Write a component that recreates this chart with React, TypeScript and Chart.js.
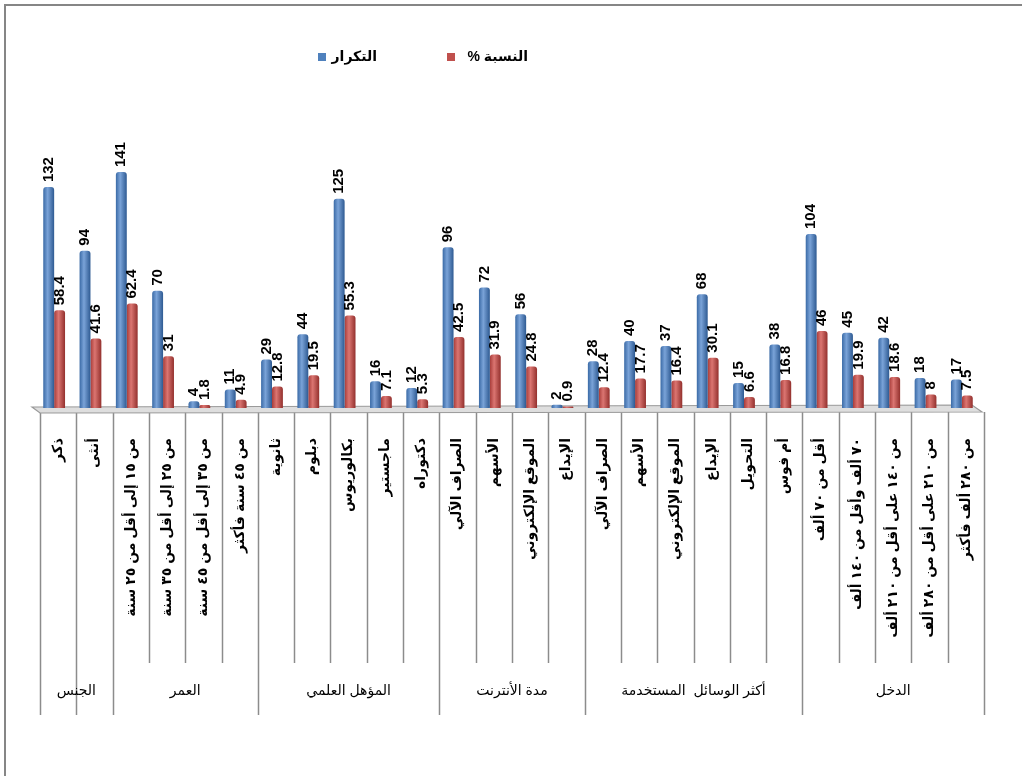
import React, { useEffect, useRef } from "react";
import { Chart, registerables } from "chart.js";

Chart.register(...registerables);

const categories = [
  "ذكر",
  "أنثى",
  "من ١٥ إلى أقل من ٢٥ سنة",
  "من ٢٥ إلى أقل من ٣٥ سنة",
  "من ٣٥ إلى أقل من ٤٥ سنة",
  "من ٤٥ سنة فأكثر",
  "ثانوية",
  "دبلوم",
  "بكالوريوس",
  "ماجستير",
  "دكتوراه",
  "الصراف الآلي",
  "الأسهم",
  "الموقع الإلكتروني",
  "الإيداع",
  "الصراف الآلي",
  "الأسهم",
  "الموقع الإلكتروني",
  "الإيداع",
  "التحويل",
  "أم فوس",
  "أقل من ٧٠ ألف",
  "٧٠ ألف وأقل من ١٤٠ ألف",
  "من ١٤٠ على أقل من ٢١٠ ألف",
  "من ٢١٠ على أقل من ٢٨٠ ألف",
  "من ٢٨٠ ألف فأكثر",
];

const groupNames = ["الجنس", "العمر", "المؤهل العلمي", "مدة الأنترنت", "أكثر الوسائل  المستخدمة", "الدخل"];
const groupSizes = [2, 4, 5, 4, 6, 5];

const frequency = [132, 94, 141, 70, 4, 11, 29, 44, 125, 16, 12, 96, 72, 56, 2, 28, 40, 37, 68, 15, 38, 104, 45, 42, 18, 17];
const percent = [58.4, 41.6, 62.4, 31, 1.8, 4.9, 12.8, 19.5, 55.3, 7.1, 5.3, 42.5, 31.9, 24.8, 0.9, 12.4, 17.7, 16.4, 30.1, 6.6, 16.8, 46, 19.9, 18.6, 8, 7.5];

const seriesLabels = ["التكرار", "النسبة %"];
const seriesColors = ["#4F81BD", "#C0504D"];
const blueStops = ["#3A6AA6", "#7AA3D8", "#2E5A92"];
const redStops = ["#A83C39", "#DB7571", "#93302D"];

const CAT_PCT = 0.6;
const BAR_SHIFT = -4;
const FONT = 'Arial, "Liberation Sans", "DejaVu Sans", sans-serif';

function barGradient(stops: string[], datasetIdx: number) {
  return (c: any) => {
    const chart = c.chart;
    const xs = chart.scales && chart.scales.x;
    if (!xs || c.type !== "data" || typeof c.dataIndex !== "number") return stops[1];
    const center = xs.getPixelForValue(c.dataIndex);
    const cw = xs.width / categories.length;
    const w = (cw * CAT_PCT) / 2;
    const left = datasetIdx === 0 ? center - w : center;
    if (!isFinite(left) || !isFinite(w) || w <= 0) return stops[1];
    const g = chart.ctx.createLinearGradient(left, 0, left + w, 0);
    g.addColorStop(0, stops[0]);
    g.addColorStop(0.4, stops[1]);
    g.addColorStop(1, stops[2]);
    return g;
  };
}

const decorPlugin = {
  id: "decor",
  beforeDraw(chart: any) {
    const ctx = chart.ctx;
    const xs = chart.scales.x;
    const bottom = chart.chartArea.bottom;
    ctx.save();
    ctx.fillStyle = "#ffffff";
    ctx.fillRect(0, 0, chart.width, chart.height);
    // outer frame
    ctx.strokeStyle = "#868686";
    ctx.lineWidth = 2;
    ctx.beginPath();
    ctx.moveTo(5, chart.height);
    ctx.lineTo(5, 5);
    ctx.lineTo(chart.width, 5);
    ctx.stroke();

    // category separators
    const n = categories.length;
    const bounds: number[] = [];
    bounds.push(xs.left);
    for (let i = 1; i < n; i++) {
      bounds.push((xs.getPixelForValue(i - 1) + xs.getPixelForValue(i)) / 2);
    }
    bounds.push(xs.right);
    const groupEdges = new Set<number>();
    let acc = 0;
    groupEdges.add(0);
    groupSizes.forEach((s) => {
      acc += s;
      groupEdges.add(acc);
    });
    groupEdges.add(1);
    ctx.strokeStyle = "#8c8c8c";
    ctx.lineWidth = 1.5;
    for (let i = 0; i <= n; i++) {
      const x = Math.round(bounds[i]) + 0.5;
      const yEnd = groupEdges.has(i) ? bottom + 307 : bottom + 255;
      ctx.beginPath();
      ctx.moveTo(x, bottom + 4);
      ctx.lineTo(x, yEnd);
      ctx.stroke();
    }

    // group labels
    ctx.fillStyle = "#000";
    ctx.font = "14px " + FONT;
    ctx.textAlign = "center";
    ctx.textBaseline = "middle";
    acc = 0;
    groupNames.forEach((name, gi) => {
      const x0 = bounds[acc];
      acc += groupSizes[gi];
      const x1 = bounds[acc];
      ctx.fillText(name, (x0 + x1) / 2, bottom + 283);
    });

    // legend
    ctx.font = "bold 14px " + FONT;
    ctx.textBaseline = "middle";
    const legendX = [318, 447];
    const legendTextRight = [377, 528];
    seriesLabels.forEach((lab, i) => {
      ctx.fillStyle = seriesColors[i];
      ctx.fillRect(legendX[i], 53, 8, 8);
      ctx.fillStyle = "#000";
      ctx.direction = "rtl";
      ctx.textAlign = "right";
      ctx.fillText(lab, legendTextRight[i], 57);
      ctx.direction = "ltr";
    });
    ctx.restore();
  },
  beforeDatasetsDraw(chart: any) {
    const ctx = chart.ctx;
    const xs = chart.scales.x;
    const bottom = chart.chartArea.bottom;
    ctx.save();
    // 3D floor
    ctx.fillStyle = "#dedede";
    ctx.strokeStyle = "#9a9a9a";
    ctx.lineWidth = 1.2;
    ctx.beginPath();
    ctx.moveTo(xs.left - 8, bottom - 1);
    ctx.lineTo(xs.right - 12, bottom - 3);
    ctx.lineTo(xs.right - 2, bottom + 4);
    ctx.lineTo(xs.left, bottom + 5);
    ctx.closePath();
    ctx.fill();
    ctx.stroke();
    ctx.restore();
    ctx.save();
    ctx.translate(BAR_SHIFT, 0);
  },
  afterDatasetsDraw(chart: any) {
    const ctx = chart.ctx;
    ctx.restore();
    ctx.save();
    ctx.fillStyle = "#000";
    ctx.font = "bold 15px " + FONT;
    ctx.textAlign = "left";
    ctx.textBaseline = "middle";
    chart.data.datasets.forEach((ds: any, di: number) => {
      const meta = chart.getDatasetMeta(di);
      meta.data.forEach((el: any, i: number) => {
        ctx.save();
        ctx.translate(el.x + BAR_SHIFT, el.y - 5);
        ctx.rotate(-Math.PI / 2);
        ctx.fillText(String(ds.data[i]), 0, 0);
        ctx.restore();
      });
    });
    ctx.restore();
  },
};

export default function App() {
  const ref = useRef<HTMLCanvasElement | null>(null);
  useEffect(() => {
    if (!ref.current) return;
    const chart = new Chart(ref.current, {
      type: "bar",
      data: {
        labels: categories,
        datasets: [
          {
            label: seriesLabels[0],
            data: frequency,
            backgroundColor: barGradient(blueStops, 0),
            borderRadius: { topLeft: 3, topRight: 3, bottomLeft: 0, bottomRight: 0 },
            borderSkipped: false,
            categoryPercentage: CAT_PCT,
            barPercentage: 1,
          },
          {
            label: seriesLabels[1],
            data: percent,
            backgroundColor: barGradient(redStops, 1),
            borderRadius: { topLeft: 3, topRight: 3, bottomLeft: 0, bottomRight: 0 },
            borderSkipped: false,
            categoryPercentage: CAT_PCT,
            barPercentage: 1,
          },
        ],
      },
      options: {
        responsive: false,
        animation: false,
        devicePixelRatio: 1,
        layout: { padding: { left: 40, right: 38, top: 157, bottom: 0 } },
        plugins: {
          legend: { display: false },
          tooltip: { enabled: false },
        },
        scales: {
          x: {
            grid: { display: false },
            border: { display: false },
            ticks: {
              autoSkip: false,
              minRotation: 90,
              maxRotation: 90,
              padding: 22,
              color: "#000",
              font: { size: 14, weight: "bold", family: FONT },
            },
            afterFit: (scale: any) => {
              scale.height = 368;
            },
          },
          y: {
            display: false,
            min: 0,
            max: 150,
          },
        },
      },
      plugins: [decorPlugin],
    });
    return () => chart.destroy();
  }, []);
  return (
    <div style={{ position: "fixed", left: 0, top: 0, width: 1022, height: 776, background: "#fff" }}>
      <canvas ref={ref} width={1022} height={776} style={{ width: 1022, height: 776, display: "block" }} />
    </div>
  );
}
